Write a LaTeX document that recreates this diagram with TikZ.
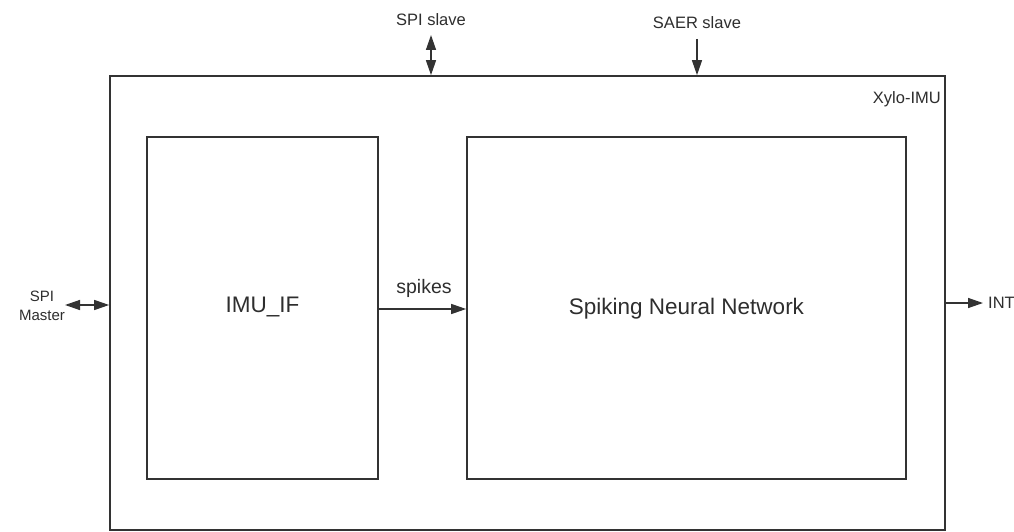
\documentclass[tikz,border=0pt]{standalone}
\usepackage{fontspec}
\setmainfont{Liberation Sans}
\usetikzlibrary{arrows.meta}
\definecolor{ln}{HTML}{333333}
\definecolor{tx}{HTML}{2E2E2E}
\begin{document}
\begin{tikzpicture}[x=1pt,y=-1pt,
  blk/.style={draw=ln,line width=1.7pt,inner sep=0pt,rectangle},
  conn/.style={draw=ln,line width=1.4pt,-{Triangle[length=15pt,width=10pt]}},
  bconn/.style={draw=ln,line width=1.4pt,{Triangle[length=15pt,width=10pt]}-{Triangle[length=15pt,width=10pt]}},
  lbl/.style={text=tx,inner sep=2pt,font=\fontsize{16.5}{19}\selectfont},
  big/.style={text=tx,font=\fontsize{22.5}{26}\selectfont}]
\useasboundingbox (0,0) rectangle (1014,532);
\fill[white] (0,0) rectangle (1014,532);
\node[blk,minimum width=835pt,minimum height=454pt] (outer) at (527.5,303) {};
\node[blk,minimum width=231pt,minimum height=342pt] (imu) at (262.5,308) {};
\node[blk,minimum width=439pt,minimum height=342pt] (snn) at (686.5,308) {};
\node[big] (imut) at (262.5,307) {IMU\_IF};
\node[big] (snnt) at (686.5,309) {Spiking Neural Network};
\node[lbl,anchor=east] (xylo) at (943,99) {Xylo-IMU};
% SPI slave
\node[lbl] (spis) at (431,20) {SPI slave};
\coordinate (spistop) at (431,35);
\draw[bconn] (spistop) -- (spistop |- outer.north);
% SAER slave
\node[lbl] (saer) at (697,23) {SAER slave};
\coordinate (saertop) at (697,39);
\draw[conn] (saertop) -- (saertop |- outer.north);
% SPI Master
\node[text=tx,align=center,inner sep=2pt,font=\fontsize{15}{19}\selectfont] (spim) at (42,306) {SPI\\Master};
\coordinate (spimr) at (65,305);
\draw[bconn] (spimr) -- (spimr -| outer.west);
% INT
\node[lbl,anchor=west,inner sep=0pt] (int) at (988,303) {INT};
\coordinate (intl) at (983,303);
\draw[conn] (intl -| outer.east) -- (intl);
% spikes
\coordinate (spk) at (420,309);
\draw[conn] (spk -| imu.east) -- (spk -| snn.west);
\node[text=tx,font=\fontsize{19.5}{22}\selectfont] (spkt) at (424,288) {spikes};
\end{tikzpicture}
\end{document}
